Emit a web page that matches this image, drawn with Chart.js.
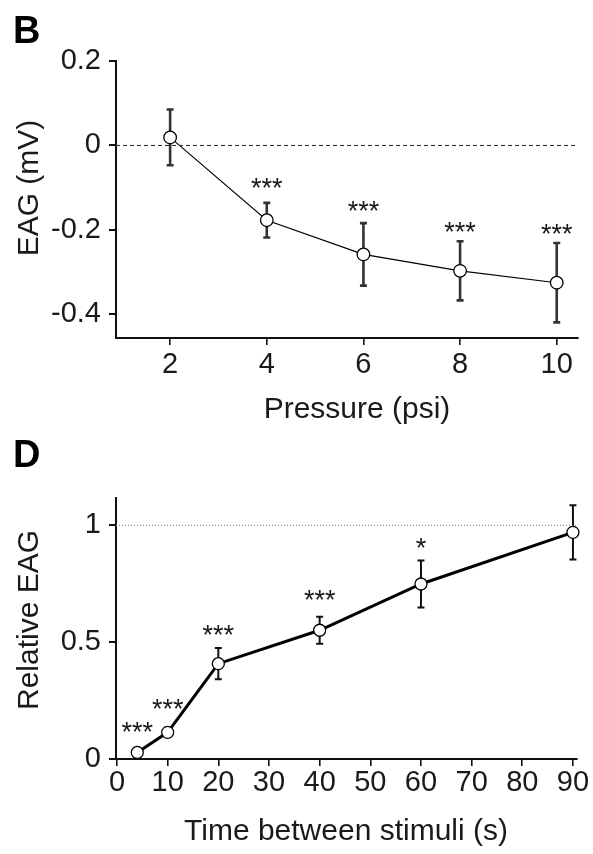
<!DOCTYPE html>
<html>
<head>
<meta charset="utf-8">
<script src="https://cdn.jsdelivr.net/npm/chart.js@4.4.1/dist/chart.umd.min.js"></script>
<style>
  html, body { margin: 0; padding: 0; background: #fff; }
  .panel { position: absolute; left: 0; width: 593px; height: 427px; }
  #panel-b { top: 0; }
  #panel-d { top: 427px; }
</style>
</head>
<body>
<div class="panel" id="panel-b"><canvas id="chart-b" width="593" height="427"></canvas></div>
<div class="panel" id="panel-d"><canvas id="chart-d" width="593" height="427"></canvas></div>
<script>
const FONT = "'Liberation Sans', Arial, Helvetica, sans-serif";
const INK = '#1a1a1a';

// ---- panel B: EAG vs pressure ----
const pressure = [2, 4, 6, 8, 10];
const eagMean = [0.019, -0.177, -0.258, -0.297, -0.325];
const eagErr = [0.066, 0.041, 0.074, 0.070, 0.094];
const eagSig = ['', '***', '***', '***', '***'];
const eagSigY = [null, -0.086, -0.141, -0.191, -0.195];
const pressureTicks = [2, 4, 6, 8, 10];
const eagTicks = [-0.4, -0.2, 0, 0.2];
const pressureRange = [0.88, 10.44];
const eagRange = [-0.456, 0.2];

// ---- panel D: relative EAG vs interval ----
const interval = [4, 10, 20, 40, 60, 90];
const relMean = [0.028, 0.114, 0.408, 0.551, 0.749, 0.970];
const relErr = [0.008, 0.02, 0.067, 0.058, 0.101, 0.116];
const relSig = ['***', '***', '***', '***', '*', ''];
const relSigY = [0.14, 0.242, 0.556, 0.708, 0.929, null];
const intervalTicks = [0, 10, 20, 30, 40, 50, 60, 70, 80, 90];
const relTicks = [0, 0.5, 1];
const intervalRange = [-0.2, 90.8];
const relRange = [0, 1.117];

// error bars go under the markers
const errorBarPlugin = {
  id: 'errorBars',
  beforeDatasetsDraw(chart, args, opts) {
    const { ctx, scales: { x, y } } = chart;
    ctx.save();
    ctx.strokeStyle = opts.color;
    ctx.lineWidth = opts.width;
    opts.xs.forEach((xv, i) => {
      const px = x.getPixelForValue(xv);
      const top = y.getPixelForValue(opts.mean[i] + opts.err[i]);
      const bot = y.getPixelForValue(opts.mean[i] - opts.err[i]);
      ctx.beginPath();
      ctx.moveTo(px, top); ctx.lineTo(px, bot);
      ctx.moveTo(px - opts.cap, top); ctx.lineTo(px + opts.cap, top);
      ctx.moveTo(px - opts.cap, bot); ctx.lineTo(px + opts.cap, bot);
      ctx.stroke();
    });
    ctx.restore();
  }
};

// panel letter, axis titles, significance stars
const annotatePlugin = {
  id: 'annotate',
  afterDraw(chart, args, opts) {
    const { ctx, scales: { x, y } } = chart;
    ctx.save();
    ctx.fillStyle = '#000';
    ctx.font = `bold 38px ${FONT}`;
    ctx.textAlign = 'left';
    ctx.textBaseline = 'alphabetic';
    ctx.fillText(opts.letter, 13, opts.letterY);

    ctx.fillStyle = INK;
    ctx.font = `30px ${FONT}`;
    ctx.textAlign = 'center';
    ctx.fillText(opts.xTitle, opts.xTitlePos[0], opts.xTitlePos[1]);
    ctx.save();
    ctx.translate(opts.yTitlePos[0], opts.yTitlePos[1]);
    ctx.rotate(-Math.PI / 2);
    ctx.fillText(opts.yTitle, 0, 0);
    ctx.restore();

    ctx.font = `27px ${FONT}`;
    opts.xs.forEach((xv, i) => {
      if (!opts.sig[i]) return;
      const px = x.getPixelForValue(xv);
      const py = y.getPixelForValue(opts.sigY[i]) + 27 * 0.56;
      ctx.fillText(opts.sig[i], px, py);
    });
    ctx.restore();
  }
};

function axis(range, ticks, padding, size, vertical) {
  return {
    type: 'linear',
    min: range[0],
    max: range[1],
    afterBuildTicks: s => { s.ticks = ticks.map(v => ({ value: v })); },
    afterFit: s => { if (vertical) s.width = size; else s.height = size; },
    border: { display: true, color: '#111', width: 2 },
    grid: { display: true, drawOnChartArea: false, drawTicks: true, tickLength: 7, color: '#111', lineWidth: vertical ? 2 : 1.6 },
    ticks: { color: INK, font: { family: FONT, size: 29 }, padding: padding, autoSkip: false, maxRotation: 0, callback: v => String(v) }
  };
}

function makeChart(id, cfg) {
  return new Chart(document.getElementById(id), {
    type: 'line',
    data: {
      datasets: [
        {
          data: cfg.refLine,
          borderColor: cfg.refColor,
          borderWidth: cfg.refWidth,
          borderDash: cfg.refDash,
          pointRadius: 0,
          clip: false
        },
        {
          data: cfg.xs.map((v, i) => ({ x: v, y: cfg.mean[i] })),
          borderColor: '#000',
          borderWidth: cfg.lineWidth,
          tension: 0,
          pointRadius: cfg.pointRadius,
          pointBackgroundColor: '#fff',
          pointBorderColor: '#000',
          pointBorderWidth: 1.3,
          clip: false
        }
      ]
    },
    options: {
      responsive: false,
      animation: false,
      events: [],
      layout: { padding: { top: cfg.top, right: cfg.right, left: 0, bottom: 0 } },
      scales: {
        x: axis(cfg.xRange, cfg.xTicks, cfg.xPad, cfg.xHeight, false),
        y: axis(cfg.yRange, cfg.yTicks, 8, 116, true)
      },
      plugins: {
        legend: { display: false },
        tooltip: { enabled: false },
        errorBars: { xs: cfg.xs, mean: cfg.mean, err: cfg.err, color: cfg.errColor, width: cfg.errWidth, cap: 3.5 },
        annotate: {
          letter: cfg.letter, letterY: cfg.letterY,
          xTitle: cfg.xTitle, xTitlePos: cfg.xTitlePos,
          yTitle: cfg.yTitle, yTitlePos: cfg.yTitlePos,
          xs: cfg.xs, sig: cfg.sig, sigY: cfg.sigY
        }
      }
    },
    plugins: [errorBarPlugin, annotatePlugin]
  });
}

makeChart('chart-b', {
  xs: pressure, mean: eagMean, err: eagErr, sig: eagSig, sigY: eagSigY,
  xRange: pressureRange, yRange: eagRange, xTicks: pressureTicks, yTicks: eagTicks,
  refLine: [{ x: pressureRange[0], y: 0 }, { x: pressureRange[1], y: 0 }],
  refColor: '#222', refWidth: 1, refDash: [4, 3],
  lineWidth: 1.1, pointRadius: 6.3, errColor: '#333', errWidth: 2.6,
  top: 61, right: 15, xHeight: 89, xPad: 3,
  letter: 'B', letterY: 43,
  xTitle: 'Pressure (psi)', xTitlePos: [357, 418],
  yTitle: 'EAG (mV)', yTitlePos: [38, 188]
});

makeChart('chart-d', {
  xs: interval, mean: relMean, err: relErr, sig: relSig, sigY: relSigY,
  xRange: intervalRange, yRange: relRange, xTicks: intervalTicks, yTicks: relTicks,
  refLine: [{ x: intervalRange[0], y: 1 }, { x: intervalRange[1], y: 1 }],
  refColor: '#777', refWidth: 1, refDash: [1, 2],
  lineWidth: 3, pointRadius: 6, errColor: '#111', errWidth: 2,
  top: 71, right: 16, xHeight: 95, xPad: 0,
  letter: 'D', letterY: 40,
  xTitle: 'Time between stimuli (s)', xTitlePos: [346, 413],
  yTitle: 'Relative EAG', yTitlePos: [38, 193]
});
</script>
</body>
</html>
